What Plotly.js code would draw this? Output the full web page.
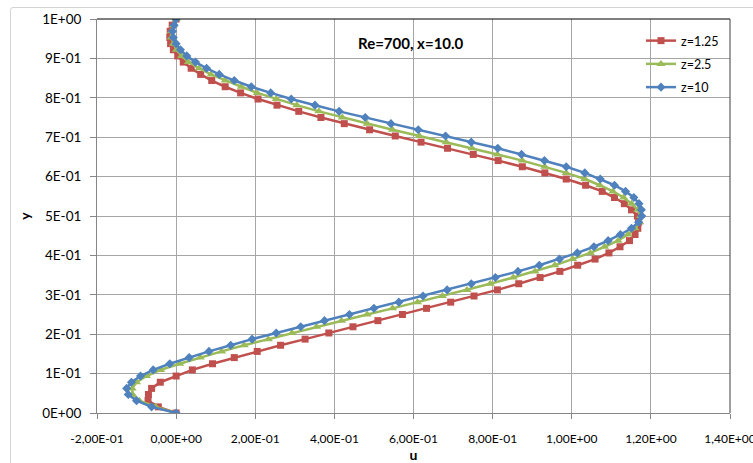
<!DOCTYPE html>
<html>
<head>
<meta charset="utf-8">
<script src="https://cdn.plot.ly/plotly-3.0.1.min.js"></script>
<style>
  html, body { margin: 0; padding: 0; background: #fff; }
  #wrap { position: relative; width: 753px; height: 463px; overflow: hidden; }
  #chart { position: absolute; left: 0; top: 0; width: 753px; height: 463px; }
  #frame { position: absolute; left: 10px; top: 7px; width: 800px; height: 500px;
           border: 1px solid #d4d4d4; border-radius: 3px; pointer-events: none; }
</style>
</head>
<body>
<div id="wrap">
  <div id="chart"></div>
  <div id="frame"></div>
</div>
<script>
// shared y grid
const yVals = [0, 0.0156, 0.0313, 0.0469, 0.0625, 0.0781, 0.0938, 0.1094, 0.125, 0.1406,
  0.1563, 0.1719, 0.1875, 0.2031, 0.2188, 0.2344, 0.25, 0.2656, 0.2813, 0.2969,
  0.3125, 0.3281, 0.3438, 0.3594, 0.375, 0.3906, 0.4063, 0.4219, 0.4375, 0.4531,
  0.4688, 0.4844, 0.5, 0.5156, 0.5313, 0.5469, 0.5625, 0.5781, 0.5938, 0.6094,
  0.625, 0.6406, 0.6563, 0.6719, 0.6875, 0.7031, 0.7188, 0.7344, 0.75, 0.7656,
  0.7813, 0.7969, 0.8125, 0.8281, 0.8438, 0.8594, 0.875, 0.8906, 0.9063, 0.9219,
  0.9375, 0.9531, 0.9688, 0.9844, 1];

const uZ125 = [0, -0.045, -0.071, -0.070, -0.062, -0.040, 0.000, 0.041, 0.092, 0.147,
  0.205, 0.264, 0.326, 0.386, 0.447, 0.510, 0.572, 0.633, 0.694, 0.753,
  0.812, 0.866, 0.920, 0.970, 1.015, 1.059, 1.094, 1.122, 1.146, 1.160,
  1.167, 1.169, 1.166, 1.151, 1.133, 1.108, 1.077, 1.035, 0.986, 0.932,
  0.875, 0.814, 0.751, 0.686, 0.619, 0.554, 0.489, 0.425, 0.366, 0.310,
  0.255, 0.207, 0.163, 0.124, 0.090, 0.062, 0.038, 0.018, 0.004, -0.007,
  -0.014, -0.016, -0.015, -0.010, 0];

const uZ25 = [0, -0.052, -0.093, -0.110, -0.111, -0.100, -0.075, -0.039, 0.009, 0.061,
  0.115, 0.172, 0.233, 0.293, 0.355, 0.418, 0.483, 0.547, 0.610, 0.673,
  0.735, 0.794, 0.852, 0.907, 0.957, 1.002, 1.047, 1.083, 1.117, 1.142,
  1.160, 1.172, 1.174, 1.167, 1.151, 1.131, 1.104, 1.071, 1.033, 0.986,
  0.932, 0.875, 0.812, 0.748, 0.683, 0.615, 0.547, 0.483, 0.420, 0.361,
  0.305, 0.253, 0.205, 0.165, 0.124, 0.088, 0.058, 0.031, 0.014, 0.001,
  -0.007, -0.012, -0.012, -0.007, 0];

const uZ10 = [0, -0.062, -0.100, -0.121, -0.125, -0.113, -0.090, -0.058, -0.016, 0.033,
  0.083, 0.138, 0.192, 0.253, 0.315, 0.375, 0.438, 0.500, 0.563, 0.624,
  0.685, 0.746, 0.807, 0.864, 0.918, 0.969, 1.014, 1.056, 1.092, 1.123,
  1.151, 1.169, 1.177, 1.176, 1.170, 1.157, 1.136, 1.108, 1.072, 1.033,
  0.986, 0.931, 0.873, 0.813, 0.746, 0.681, 0.612, 0.543, 0.478, 0.412,
  0.351, 0.291, 0.239, 0.190, 0.147, 0.109, 0.077, 0.049, 0.027, 0.011,
  0.000, -0.007, -0.009, -0.005, 0];

const seriesNames = ['z=1.25', 'z=2.5', 'z=10'];

const xTickVals = [-0.2, 0, 0.2, 0.4, 0.6, 0.8, 1.0, 1.2, 1.4];
const xTickText = ['-2,00E-01', '0,00E+00', '2,00E-01', '4,00E-01', '6,00E-01', '8,00E-01', '1,00E+00', '1,20E+00', '1,40E+00'];
const yTickVals = [0, 0.1, 0.2, 0.3, 0.4, 0.5, 0.6, 0.7, 0.8, 0.9, 1.0];
const yTickText = ['0E+00', '1E-01', '2E-01', '3E-01', '4E-01', '5E-01', '6E-01', '7E-01', '8E-01', '9E-01', '1E+00'];

const chartTitle = 'Re=700, x=10.0';
const FONT = 'Lato, "Open Sans", sans-serif';

const traces = [
  {x: uZ125, y: yVals, name: seriesNames[0], mode: 'lines+markers', legendgroup: 'a',
   line: {color: '#c0504d', width: 2.5}, marker: {symbol: 'square', size: 7, color: '#c0504d'}},
  {x: uZ25, y: yVals, name: seriesNames[1], mode: 'lines+markers', legendgroup: 'b',
   line: {color: '#9bbb59', width: 2.5}, marker: {symbol: 'triangle-up', size: 8, color: '#9bbb59'}},
  {x: uZ10, y: yVals, name: seriesNames[2], mode: 'lines+markers', legendgroup: 'c',
   line: {color: '#4f81bd', width: 2.5}, marker: {symbol: 'diamond', size: 7, color: '#4f81bd'}}
];

const layout = {
  width: 753, height: 463,
  margin: {l: 97, r: 23, t: 19, b: 50},
  paper_bgcolor: '#ffffff', plot_bgcolor: '#ffffff',
  font: {family: FONT, size: 12, color: '#000'},
  showlegend: true,
  legend: {x: (641 - 97) / 633, y: 1 - (26 - 19) / 394, xanchor: 'left', yanchor: 'top',
           bgcolor: 'rgba(0,0,0,0)', borderwidth: 0, font: {family: FONT, size: 12.5, color: '#000'},
           tracegroupgap: 4, itemwidth: 30, traceorder: 'grouped'},
  xaxis: {range: [-0.2, 1.4], tickvals: xTickVals, ticktext: xTickText,
          showgrid: true, gridcolor: '#a6a6a6', gridwidth: 1, zeroline: false,
          showline: true, linecolor: '#868686', linewidth: 1,
          ticks: 'outside', ticklen: 5, tickcolor: '#868686', ticklabelstandoff: 10,
          ticklabeloverflow: 'allow',
          tickfont: {family: FONT, size: 12, color: '#000'},
          title: {text: 'u', font: {family: FONT, size: 14, color: '#000', weight: 'bold'}, standoff: 8},
          fixedrange: true},
  yaxis: {range: [0, 1], tickvals: yTickVals, ticktext: yTickText,
          showgrid: true, gridcolor: '#a6a6a6', gridwidth: 1, zeroline: false,
          showline: true, linecolor: '#868686', linewidth: 1,
          ticks: 'outside', ticklen: 6, tickcolor: '#868686', ticklabelstandoff: 6,
          tickfont: {family: FONT, size: 13.5, color: '#000'},
          title: {text: 'y', font: {family: FONT, size: 14, color: '#000', weight: 'bold'}, standoff: 8},
          fixedrange: true},
  shapes: [
    {type: 'rect', xref: 'paper', yref: 'paper', layer: 'below',
     x0: (652 - 97) / 633, x1: (722 - 97) / 633, y0: (413 - 105) / 394, y1: (413 - 22) / 394,
     fillcolor: '#ffffff', line: {width: 0}},
    {type: 'line', xref: 'paper', yref: 'paper', x0: 0, x1: 1, y0: 1, y1: 1, line: {color: '#000', width: 1}},
    {type: 'line', xref: 'paper', yref: 'paper', x0: 1, x1: 1, y0: 0, y1: 1, line: {color: '#404040', width: 1}}
  ],
  annotations: [
    {text: '<b>' + chartTitle + '</b>', xref: 'paper', yref: 'paper', x: (411 - 97) / 633, y: (413 - 43) / 394,
     xanchor: 'center', yanchor: 'middle', showarrow: false, font: {family: FONT, size: 15, color: '#000'}}
  ]
};

Plotly.newPlot('chart', traces, layout, {displayModeBar: false, staticPlot: true});
</script>
</body>
</html>
